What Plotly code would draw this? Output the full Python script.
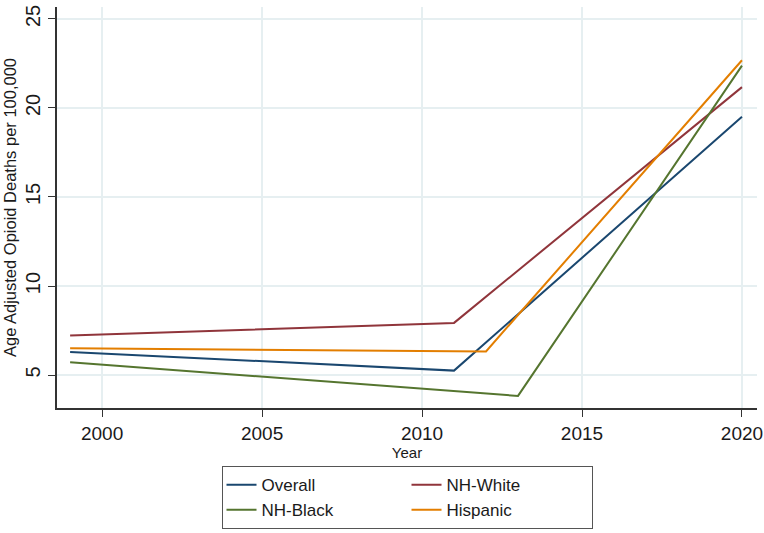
import plotly.graph_objects as go

# Joinpoint fitted rates: start year, joinpoint year, end year
series_names = ["Overall", "NH-White", "NH-Black", "Hispanic"]
overall_years = [1999, 2011, 2020]
overall_rates = [6.3, 5.25, 19.5]
white_years = [1999, 2011, 2020]
white_rates = [7.22, 7.93, 21.17]
black_years = [1999, 2013, 2020]
black_rates = [5.72, 3.83, 22.38]
hispanic_years = [1999, 2012, 2020]
hispanic_rates = [6.5, 6.33, 22.68]

x_ticks = [2000, 2005, 2010, 2015, 2020]
y_ticks = [5, 10, 15, 20, 25]

colors = ["#1a476f", "#90353b", "#55752f", "#e37e00"]
groups = ["a", "b", "a", "b"]
data = [(overall_years, overall_rates), (white_years, white_rates),
        (black_years, black_rates), (hispanic_years, hispanic_rates)]

fig = go.Figure()
for name, (xs, ys), c, g in zip(series_names, data, colors, groups):
    fig.add_trace(go.Scatter(x=xs, y=ys, mode="lines", name=name,
                             legendgroup=g,
                             line=dict(color=c, width=2)))

font_family = "Liberation Sans, Arial, sans-serif"
fig.update_layout(
    width=764, height=533,
    margin=dict(l=57, r=7, t=7, b=125, autoexpand=False),
    paper_bgcolor="white", plot_bgcolor="white",
    font=dict(family=font_family, color="#1a1a1a"),
    showlegend=True,
    legend=dict(orientation="h", x=0.5, xanchor="center", y=-0.145, yanchor="top",
                traceorder="grouped", tracegroupgap=0,
                entrywidth=140,
                bordercolor="#555555", borderwidth=1,
                font=dict(size=17, family=font_family)),
)
fig.update_xaxes(range=[1998.59, 2020.47], tickvals=x_ticks,
                 showline=True, linecolor="#333333", linewidth=1.5,
                 ticks="outside", ticklen=7, tickcolor="#333333",
                 showgrid=True, gridcolor="#e6eff1", gridwidth=1.5,
                 zeroline=False, ticklabeloverflow="allow", automargin=False,
                 tickfont=dict(size=19),
                 title=dict(text="Year", font=dict(size=15), standoff=0))
fig.update_yaxes(range=[3.15, 25.67], tickvals=y_ticks, tickangle=-90,
                 showline=True, linecolor="#333333", linewidth=1.5,
                 ticks="outside", ticklen=7, tickcolor="#333333",
                 showgrid=True, gridcolor="#e6eff1", gridwidth=1.5,
                 zeroline=False, ticklabeloverflow="allow", automargin=False,
                 tickfont=dict(size=20),
                 title=dict(text="Age Adjusted Opioid Deaths per 100,000",
                            font=dict(size=16.5), standoff=1))

fig.write_html("out.html")
